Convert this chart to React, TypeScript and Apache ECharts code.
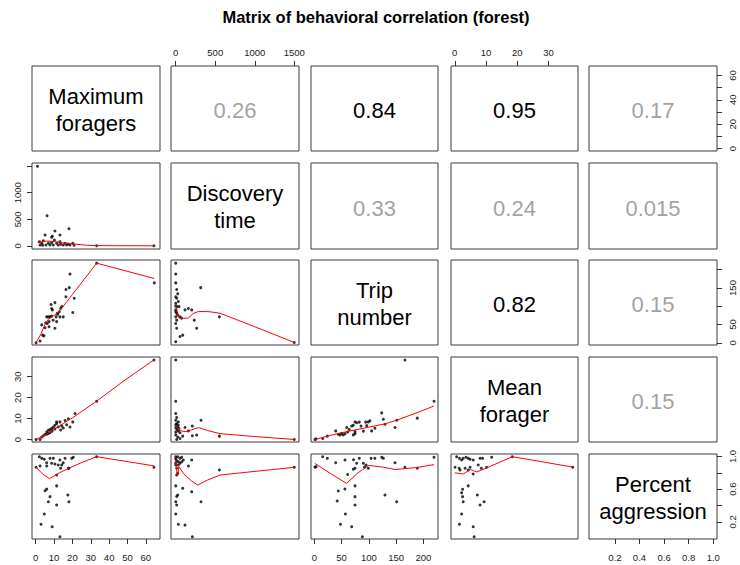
import React, { useEffect, useRef } from "react";
import * as echarts from "echarts";

// ---------- data ----------
const titleText = "Matrix of behavioral correlation (forest)";
const varNames = ["Maximum\nforagers", "Discovery\ntime", "Trip\nnumber", "Mean\nforager", "Percent\naggression"];
// axis ranges (data range padded by 4% as R does)
const varMin = [-2, -60, -6, -1.2, -0.01];
const varMax = [67.7, 1560, 226.6, 39.4, 1.03];
const varTicks = [
  [0, 10, 20, 30, 40, 50, 60],
  [0, 500, 1000, 1500],
  [0, 50, 100, 150, 200],
  [0, 10, 20, 30],
  [0.2, 0.4, 0.6, 0.8, 1.0],
];
const sideLabels = [
  [0, 20, 40, 60],
  [0, 500, 1000],
  [0, 50, 150],
  [0, 10, 20, 30],
  [0.2, 0.6, 1.0],
];

const corrCells = [[0, 1], [0, 2], [0, 3], [0, 4], [1, 2], [1, 3], [1, 4], [2, 3], [2, 4], [3, 4]];
const corrValues = ["0.26", "0.84", "0.95", "0.17", "0.33", "0.24", "0.015", "0.82", "0.15", "0.15"];
const corrStrong = [false, true, true, false, false, false, false, true, false, false];

// Discovery time vs Maximum foragers
const p21 = [[1,1500],[6.2,567],[5.1,204],[8.7,160],[9.1,180],[10.5,279],[13.2,204],[18.1,322],[2,78],[3.3,47],[4.2,96],[5.6,15],[6.9,47],[7.8,15],[8.7,59],[9.6,15],[10.2,110],[11.4,47],[12.3,15],[13.2,78],[13.6,28],[15,15],[16,47],[16.9,15],[17.8,34],[18.7,15],[20.2,47],[20.9,10],[2.4,15],[3.8,10],[33.2,2],[64.4,2]];
const s21 = [[1,59],[6,90],[10,80],[17,47],[28,10],[33.2,3],[64.4,0]];
// Trip number vs Maximum foragers
const p31 = [[0.2,0.3],[2.4,5],[3.8,21],[4.5,19],[3.3,49],[5.1,41],[5.5,55],[6.3,53],[6,71],[6.9,71],[7.8,71],[8.7,73],[7.3,58],[7.3,44],[8.4,105],[8.7,94],[9.1,90],[10.5,110],[10.5,40],[11.4,58],[11.1,71],[11.8,81],[12.9,85],[13.6,94],[14.2,99],[13.2,71],[15,71],[16.5,146],[16.5,126],[18.3,151],[18.7,188],[21,122],[20.2,83],[33.2,218],[64.6,164],[9.5,62],[12,78]];
const s31 = [[0.2,0.3],[3,25],[5,50],[7,65],[10,75],[12,82],[15,100],[20,132],[33.2,218],[64.6,176]];
// Trip number vs Discovery time
const p32 = [[0,218],[0,188],[0,164],[12,146],[25,134],[0,126],[12,122],[0,108],[0,101],[0,90],[12,81],[0,71],[12,62],[0,53],[12,40],[0,3],[41,99],[54,71],[75,67],[54,17],[88,21],[117,90],[160,94],[202,90],[235,62],[265,40],[316,151],[552,71],[1500,1],[0,85],[25,76],[12,99],[33,113]];
const s32 = [[0,104],[20,85],[40,68],[100,67],[160,68],[220,80],[290,86],[430,85],[560,81],[1000,44],[1500,1]];
// Mean forager vs Maximum foragers
const p41 = [[0.2,0],[2.4,0],[3.3,1.2],[4.2,1.8],[5.1,2.5],[6,2.5],[6.9,2.9],[7.8,3.2],[6,3.6],[6.9,4.4],[7.8,4.8],[8.7,5.3],[9.6,6],[10.5,6.8],[11.4,7.6],[11.4,8.4],[13.2,8.4],[16,9.1],[17.8,9.9],[20.2,8.4],[21.4,12.4],[10.5,5],[12.3,6],[14.2,6.5],[15,5.5],[16.9,7],[18.7,6],[9,4],[13.6,4.5],[33.2,18.3],[64.4,38]];
const s41 = [[0.2,0],[5,2],[10,5],[15,7.6],[20,10.3],[33.2,18.3],[48,28],[64.4,38]];
// Mean forager vs Discovery time
const p42 = [[0,38],[0,18.3],[0,12.4],[12,10.5],[0,9.2],[33,8.4],[12,7.6],[33,6.8],[0,5.7],[12,4.8],[33,4.1],[54,3.2],[0,2.1],[25,1.2],[54,0.5],[12,0],[0,7],[25,6],[40,5.2],[0,3.5],[88,1.6],[117,5.7],[160,4.1],[210,6.4],[210,1.8],[265,2.1],[320,9.2],[552,1.6],[1500,0]];
const s42 = [[0,6.5],[30,5],[80,4],[130,3.8],[200,4.6],[290,5.7],[400,4.3],[560,2.8],[1000,1.4],[1500,0]];
// Mean forager vs Trip number
const p43 = [[1.3,0],[3.2,0.3],[15.4,0.5],[23.9,1.6],[39.2,4.1],[44,2.5],[47,2.2],[50,2.9],[53,2.2],[56.3,2.8],[59.4,5.7],[61.2,3.6],[64.1,4.8],[68.5,6.4],[71.5,6.8],[74.6,8.4],[77.7,8.0],[82.5,8.3],[85.6,6.4],[89.9,4.0],[94.2,8.3],[96,6.6],[99,8.4],[102,8.9],[105,4.1],[111,5.4],[123.5,12.7],[126.5,9.7],[129.5,7.3],[71.5,2.2],[74.6,3.8],[74.6,2.8],[147.8,5.7],[151,9.2],[166,38],[188.7,10.2],[219.3,18.3]];
const s43 = [[1,0],[30,2],[60,3.8],[100,5.9],[130,7.5],[152,9.3],[190,13],[219.3,16]];
// Percent aggression vs Maximum foragers
const p51 = [[0.2,0.867],[2.4,0.883],[2,0.997],[3.3,0.977],[4.7,0.965],[6,0.923],[6,0.883],[7.8,0.977],[8.7,0.916],[9.6,0.977],[10.5,0.908],[12.3,0.895],[13.2,0.957],[13.6,0.855],[14.2,0.895],[15,0.923],[16,0.977],[17.8,0.855],[18.1,0.855],[19.6,0.977],[20.5,0.99],[33.2,0.997],[64.4,0.867],[11.4,0.773],[11.4,0.64],[6,0.6],[5.1,0.58],[7.8,0.508],[6.9,0.446],[11.4,0.406],[17.5,0.528],[18.1,0.446],[4.7,0.296],[2.9,0.17],[9,0.14],[13.2,0.018]];
const s51 = [[0.2,0.87],[4,0.78],[7.5,0.73],[10,0.76],[13,0.8],[18,0.855],[25,0.925],[33.2,0.997],[64.4,0.885]];
// Percent aggression vs Discovery time
const p52 = [[0,0.997],[25,0.997],[54,0.977],[75,0.99],[12,0.948],[33,0.936],[0,0.895],[12,0.855],[33,0.895],[54,0.916],[75,0.936],[96,0.957],[160,0.883],[202,0.957],[12,0.773],[25,0.794],[0,0.64],[25,0.528],[12,0.51],[0,0.446],[12,0.406],[0,0.296],[33,0.17],[88,0.61],[117,0.16],[202,0.568],[210,0.018],[320,0.446],[552,0.834],[1500,0.867],[0,0.97],[0,0.92]];
const s52 = [[0,0.95],[15,0.8],[25,0.77],[41,0.875],[100,0.79],[200,0.7],[278,0.65],[400,0.71],[560,0.773],[1500,0.867]];
// Percent aggression vs Trip number
const p53 = [[1.3,0.867],[3.2,0.875],[15.4,0.997],[23.9,0.977],[39.2,0.923],[56.3,0.957],[61.2,0.78],[71.5,0.843],[74.6,0.855],[77.7,0.916],[82.5,0.977],[89.9,0.916],[94.9,0.895],[99,0.855],[104,0.977],[111,0.977],[123.5,0.99],[126.5,0.977],[147.8,0.923],[166,0.867],[188.7,0.855],[219.3,0.99],[44,0.577],[42,0.455],[56,0.602],[74.6,0.64],[74.6,0.508],[74.6,0.406],[57,0.296],[48,0.17],[68.5,0.14],[88,0.018],[129.5,0.528],[151,0.446],[72,0.96],[92,0.87]];
const s53 = [[1,0.915],[30,0.79],[59,0.67],[80,0.8],[100,0.89],[125,0.87],[148,0.84],[188,0.865],[219.3,0.9]];
// Percent aggression vs Mean forager
const p54 = [[0.1,0.867],[0.6,0.997],[1.5,0.977],[2.2,0.957],[2.7,0.977],[3.6,0.99],[4.3,0.977],[4.9,0.965],[5.9,0.957],[8.1,0.977],[8.9,0.977],[11.8,0.99],[1.4,0.855],[1.7,0.834],[3.3,0.855],[4.3,0.834],[4.9,0.867],[5.9,0.785],[7.5,0.895],[8.5,0.855],[10.2,0.867],[4.3,0.64],[2.5,0.598],[2.2,0.556],[2.5,0.508],[2.7,0.446],[2.2,0.296],[1.5,0.17],[7.2,0.528],[9.4,0.446],[8.1,0.406],[5.9,0.14],[6.2,0.018],[18.4,0.997],[37.7,0.867]];
const s54 = [[0,0.8],[2.7,0.785],[5,0.84],[7,0.81],[10.2,0.86],[18.4,0.997],[37.7,0.87]];

const lowerPanels = [
  { r: 1, c: 0, pts: p21, smooth: s21 },
  { r: 2, c: 0, pts: p31, smooth: s31 },
  { r: 2, c: 1, pts: p32, smooth: s32 },
  { r: 3, c: 0, pts: p41, smooth: s41 },
  { r: 3, c: 1, pts: p42, smooth: s42 },
  { r: 3, c: 2, pts: p43, smooth: s43 },
  { r: 4, c: 0, pts: p51, smooth: s51 },
  { r: 4, c: 1, pts: p52, smooth: s52 },
  { r: 4, c: 2, pts: p53, smooth: s53 },
  { r: 4, c: 3, pts: p54, smooth: s54 },
];

// ---------- layout ----------
const LEFTS = [32, 171, 311, 451, 589];
const RIGHTS = [160, 299, 438, 578, 717];
const TOPS = [66, 163, 260, 357, 454];
const BOTTOMS = [151, 249, 345, 442, 539];
const FONT = "'Liberation Sans', Arial, Helvetica, sans-serif";
const fmt = (k: number) => (v: number) => (k === 4 ? Number(v).toFixed(1) : String(v));

function buildOption() {
  const grid: any[] = [];
  const xAxis: any[] = [];
  const yAxis: any[] = [];
  const series: any[] = [];
  const graphic: any[] = [];

  for (let r = 0; r < 5; r++) {
    for (let c = 0; c < 5; c++) {
      const i = r * 5 + c;
      grid.push({
        left: LEFTS[c],
        top: TOPS[r],
        width: RIGHTS[c] - LEFTS[c],
        height: BOTTOMS[r] - TOPS[r],
        show: true,
        borderColor: "#3a3a3a",
        borderWidth: 1,
        backgroundColor: "transparent",
      });
      const showTop = r === 0 && c % 2 === 1;
      const showBottom = r === 4 && c % 2 === 0;
      const sx = showTop || showBottom;
      xAxis.push({
        type: "value",
        gridIndex: i,
        min: varMin[c],
        max: varMax[c],
        position: showTop ? "top" : "bottom",
        axisLine: { show: false, onZero: false },
        splitLine: { show: false },
        axisTick: { show: sx, length: 5, customValues: varTicks[c], lineStyle: { color: "#333" } },
        axisLabel: {
          show: sx,
          customValues: varTicks[c],
          margin: showTop ? 9 : 13,
          fontSize: 9.5,
          color: "#222",
          fontFamily: FONT,
          formatter: fmt(c),
        },
      });
      const showLeft = c === 0 && r % 2 === 1;
      const showRight = c === 4 && r % 2 === 0;
      const sy = showLeft || showRight;
      yAxis.push({
        type: "value",
        gridIndex: i,
        min: varMin[r],
        max: varMax[r],
        position: showRight ? "right" : "left",
        axisLine: { show: false, onZero: false },
        splitLine: { show: false },
        axisTick: { show: sy, length: 5, customValues: varTicks[r], lineStyle: { color: "#333" } },
        axisLabel: {
          show: sy,
          customValues: sideLabels[r],
          rotate: 90,
          margin: 10,
          fontSize: 9.5,
          color: "#222",
          fontFamily: FONT,
          formatter: fmt(r),
        },
      });
    }
  }

  lowerPanels.forEach((p) => {
    const i = p.r * 5 + p.c;
    series.push({
      type: "scatter",
      xAxisIndex: i,
      yAxisIndex: i,
      data: p.pts,
      symbol: "circle",
      symbolSize: 3,
      itemStyle: { color: "#000" },
      silent: true,
    });
    series.push({
      type: "line",
      xAxisIndex: i,
      yAxisIndex: i,
      data: p.smooth,
      showSymbol: false,
      symbol: "none",
      lineStyle: { color: "#ff0000", width: 1 },
      silent: true,
    });
  });

  graphic.push({
    type: "text",
    x: 376,
    y: 17,
    style: {
      text: titleText,
      font: `bold 16.5px ${FONT}`,
      fill: "#000",
      textAlign: "center",
      textVerticalAlign: "middle",
    },
  });

  for (let k = 0; k < 5; k++) {
    graphic.push({
      type: "text",
      x: (LEFTS[k] + RIGHTS[k]) / 2,
      y: (TOPS[k] + BOTTOMS[k]) / 2 + 1,
      style: {
        text: varNames[k],
        font: `22px ${FONT}`,
        lineHeight: 27,
        fill: "#000",
        textAlign: "center",
        textVerticalAlign: "middle",
      },
    });
  }

  corrCells.forEach(([r, c], k) => {
    graphic.push({
      type: "text",
      x: (LEFTS[c] + RIGHTS[c]) / 2,
      y: (TOPS[r] + BOTTOMS[r]) / 2 + 2,
      style: {
        text: corrValues[k],
        font: `22px ${FONT}`,
        fill: corrStrong[k] ? "#000" : "#a3a3a3",
        textAlign: "center",
        textVerticalAlign: "middle",
      },
    });
  });

  return {
    animation: false,
    backgroundColor: "#ffffff",
    grid,
    xAxis,
    yAxis,
    series,
    graphic,
  };
}

export default function App() {
  const ref = useRef<HTMLDivElement>(null);
  useEffect(() => {
    if (!ref.current) return;
    const chart = echarts.init(ref.current, undefined, { renderer: "svg" });
    chart.setOption(buildOption() as any);
    return () => chart.dispose();
  }, []);
  return (
    <div
      ref={ref}
      style={{ position: "absolute", left: 0, top: 0, width: 740, height: 565, background: "#fff" }}
    />
  );
}
